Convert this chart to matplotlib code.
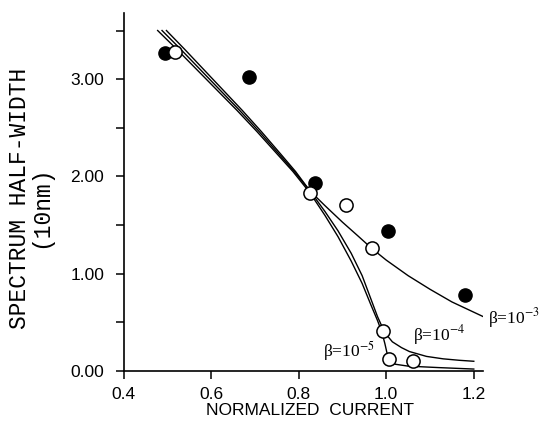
import matplotlib
matplotlib.use("Agg")
import matplotlib.pyplot as plt

plt.rcParams['mathtext.fontset'] = 'stix'

# Measured data
filled_x = [0.495, 0.687, 0.837, 1.004, 1.179]
filled_y = [3.27, 3.02, 1.93, 1.44, 0.78]
open_x = [0.518, 0.826, 0.908, 0.967, 0.992, 1.007, 1.060]
open_y = [3.28, 1.83, 1.71, 1.26, 0.41, 0.12, 0.10]

# Model curves
b3_x = [0.498, 0.539, 0.583, 0.627, 0.671, 0.715, 0.759, 0.793, 0.826,
        0.86, 0.90, 0.935, 0.967, 1.0, 1.05, 1.10, 1.15, 1.221]
b3_y = [3.50, 3.31, 3.10, 2.89, 2.68, 2.46, 2.23, 2.05, 1.85,
        1.70, 1.53, 1.39, 1.26, 1.14, 0.98, 0.84, 0.71, 0.56]
b4_x = [0.488, 0.53, 0.575, 0.62, 0.665, 0.71, 0.755, 0.79, 0.826,
        0.86, 0.89, 0.92, 0.945, 0.965, 0.98, 0.992, 1.003, 1.014,
        1.035, 1.053, 1.092, 1.13, 1.167, 1.20]
b4_y = [3.50, 3.31, 3.10, 2.89, 2.68, 2.46, 2.23, 2.05, 1.85,
        1.64, 1.44, 1.21, 0.98, 0.74, 0.56, 0.44, 0.36, 0.30,
        0.24, 0.20, 0.15, 0.125, 0.11, 0.10]
b5_x = [0.478, 0.521, 0.567, 0.613, 0.659, 0.705, 0.751, 0.787, 0.826,
        0.86, 0.89, 0.92, 0.945, 0.965, 0.98, 0.99, 0.997, 1.002,
        1.008, 1.02, 1.05, 1.12, 1.20]
b5_y = [3.50, 3.31, 3.10, 2.89, 2.68, 2.46, 2.23, 2.05, 1.83,
        1.60, 1.38, 1.13, 0.90, 0.68, 0.52, 0.40, 0.28, 0.18,
        0.11, 0.07, 0.05, 0.035, 0.02]

x_ticks = [0.4, 0.6, 0.8, 1.0, 1.2]
x_ticklabels = ["0.4", "0.6", "0.8", "1.0", "1.2"]
y_ticks = [0.0, 1.0, 2.0, 3.0]
y_ticklabels = ["0.00", "1.00", "2.00", "3.00"]
y_minor = [0.5, 1.5, 2.5, 3.5]

fig = plt.figure(figsize=(5.39, 4.24), dpi=100)
ax = fig.add_axes([123.5/539, 53/424, (483-123.5)/539, (371-13)/424])
ax.set_xlim(0.4, 1.221)
ax.set_ylim(0.0, 3.68)

lw = 1.0
for xs, ys in [(b3_x, b3_y), (b4_x, b4_y), (b5_x, b5_y)]:
    ax.plot(xs, ys, color='black', lw=lw, solid_joinstyle='round')

ax.plot(filled_x, filled_y, 'o', color='black', markersize=9.5, zorder=5)
ax.plot(open_x, open_y, 'o', markerfacecolor='white', markeredgecolor='black',
        markeredgewidth=1.1, markersize=9.5, zorder=5)

for s in ['top', 'right']:
    ax.spines[s].set_visible(False)
for s in ['left', 'bottom']:
    ax.spines[s].set_linewidth(1.2)

ax.set_xticks(x_ticks)
ax.set_xticklabels(x_ticklabels, family='Liberation Sans', fontsize=12.5)
ax.set_yticks(y_ticks)
ax.set_yticklabels(y_ticklabels, family='Liberation Sans', fontsize=12.5)
ax.set_yticks(y_minor, minor=True)
ax.tick_params(axis='both', which='both', direction='out', length=5.5, width=1.1)
ax.tick_params(axis='y', pad=8.5)
ax.tick_params(axis='x', pad=6)

serif = ['Liberation Serif', 'DejaVu Serif']
ax.text(1.232, 0.49, 'β=10$^{-3}$', family=serif, fontsize=12.5,
        va='baseline', ha='left', clip_on=False)
ax.text(1.061, 0.31, 'β=10$^{-4}$', family=serif, fontsize=12.5,
        va='baseline', ha='left', clip_on=False)
ax.text(0.855, 0.145, 'β=10$^{-5}$', family=serif, fontsize=12.5,
        va='baseline', ha='left', clip_on=False)

fig.text(0.036, 0.531, 'SPECTRUM HALF-WIDTH', rotation=90, family='Liberation Mono',
         fontsize=16.5, ha='center', va='center')
fig.text(0.076, 0.512, '(10nm)', rotation=90, family='Liberation Mono',
         fontsize=16.5, ha='center', va='center')
fig.text(0.575, 0.031, 'NORMALIZED  CURRENT', family='Liberation Sans',
         fontsize=12.5, ha='center', va='center')

fig.savefig('out.png', dpi=100)
